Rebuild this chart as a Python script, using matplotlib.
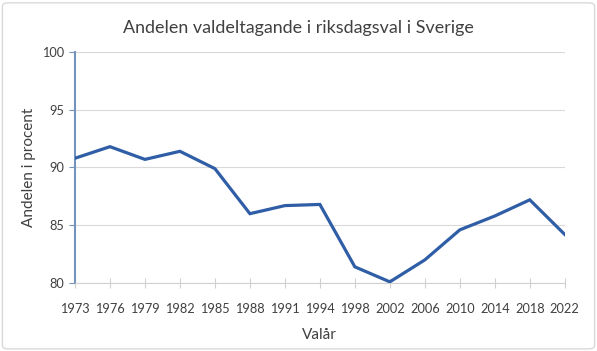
import matplotlib.pyplot as plt
from matplotlib.patches import FancyBboxPatch

years = ["1973", "1976", "1979", "1982", "1985", "1988", "1991", "1994",
         "1998", "2002", "2006", "2010", "2014", "2018", "2022"]
turnout = [90.8, 91.8, 90.7, 91.4, 89.9, 86.0, 86.7, 86.8,
           81.4, 80.1, 82.0, 84.6, 85.8, 87.2, 84.2]
y_ticks = [80, 85, 90, 95, 100]

plt.rcParams['font.family'] = ['Lato', 'DejaVu Sans']

fig = plt.figure(figsize=(5.97, 3.51), dpi=100)
ax = fig.add_axes([0.1256, 0.1937, 0.8204, 0.6583])

# light frame around the whole chart
fig.patches.append(FancyBboxPatch((0.004, 0.006), 0.992, 0.986, boxstyle="round,pad=0,rounding_size=0.01",
                                  transform=fig.transFigure, fill=False, edgecolor="#d9d9d9", linewidth=1))

x = range(len(years))
ax.plot(x, turnout, color="#2f5ea6", linewidth=2.3, solid_joinstyle="miter", zorder=3)

ax.set_xlim(0, len(years) - 1)
ax.set_ylim(80, 100)
ax.set_xticks(list(x))
ax.set_xticklabels(years)
ax.set_yticks(y_ticks)

ax.grid(axis="y", color="#d9d9d9", linewidth=0.8)
ax.set_axisbelow(True)

for side in ["top", "right"]:
    ax.spines[side].set_visible(False)
ax.spines["left"].set_color("#7393bd")
ax.spines["left"].set_linewidth(1.5)
ax.spines["bottom"].set_color("#d0d0d0")
ax.spines["bottom"].set_linewidth(0.8)

ax.tick_params(axis="x", direction="inout", length=7, color="#d0d0d0", labelsize=9.2,
               labelcolor="#404040", pad=11)
ax.tick_params(axis="y", direction="out", length=4, color="#7393bd", labelsize=9.2,
               labelcolor="#404040", pad=4)

# title centred on the whole chart, like the reference
fig.text(0.5, 1 - 28.5 / 351, "Andelen valdeltagande i riksdagsval i Sverige", fontsize=12.9,
         color="#404040", ha="center", va="center")
ax.set_xlabel("Valår", fontsize=11, color="#404040", labelpad=9)
ax.set_ylabel("Andelen i procent", fontsize=11, color="#404040")
ax.yaxis.set_label_coords(-0.08, 0.5)

fig.savefig("out.png", dpi=100)
